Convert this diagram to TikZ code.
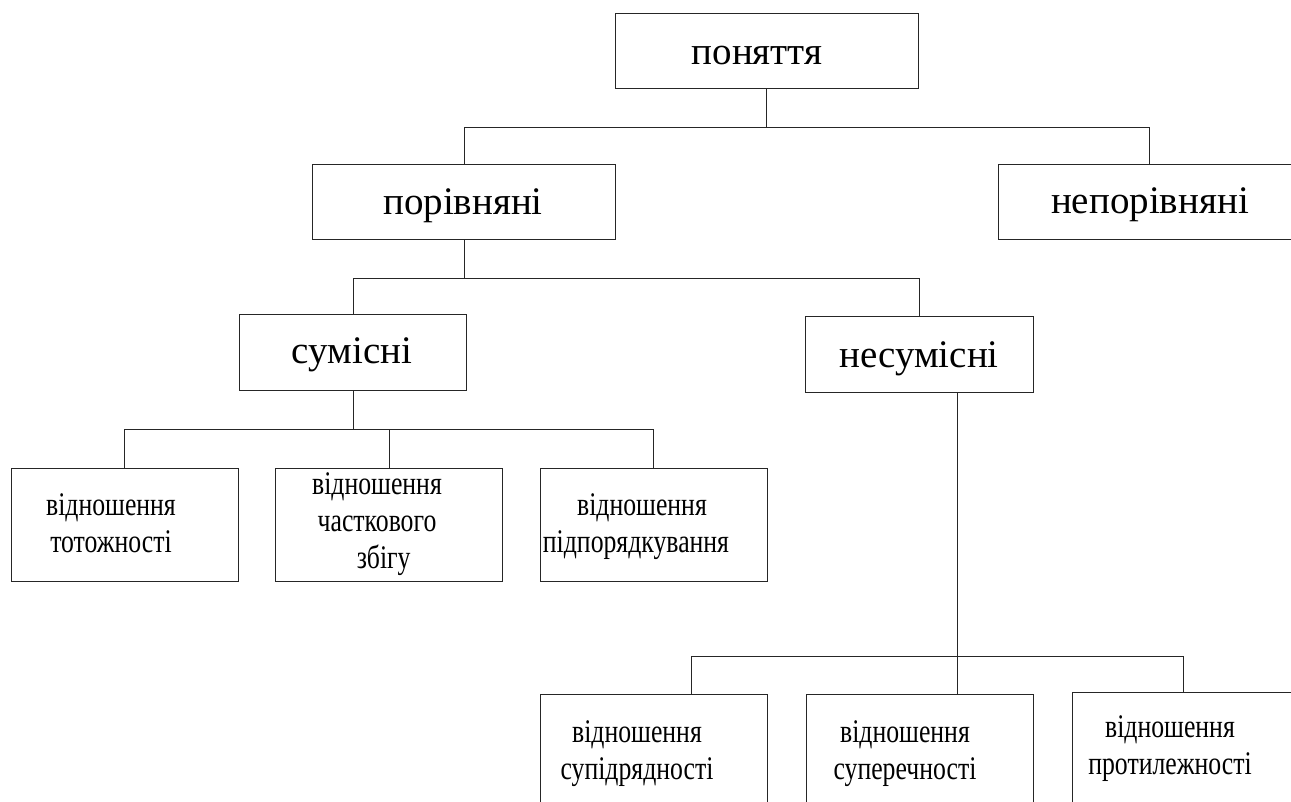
\documentclass[tikz,border=0pt]{standalone}
\usepackage{fontspec}
\setmainfont{Liberation Serif}
\newfontfamily\narrowfont[FakeStretch=0.78]{Liberation Serif}
\usetikzlibrary{positioning}
\tikzset{
    line/.style={draw=black!85, line width=0.75pt}, % thin connectors
    box/.style={line, inner sep=0pt}, % plain frame, text set apart
    topbox/.style={box, minimum width=227.25pt, minimum height=56.25pt}, % upper level
    midbox/.style={box, minimum width=170.5pt, minimum height=57pt}, % middle level
    relbox/.style={box, minimum width=170.25pt, minimum height=84.75pt}, % relation boxes
    bigtext/.style={font=\fontsize{29.25}{34}\selectfont, inner sep=0pt, anchor=base},
    reltext/.style={font=\narrowfont\fontsize{24.75}{27.75}\selectfont, align=center, inner sep=0pt, anchor=base}, % base = last line
}

\begin{document}
\begin{tikzpicture}[x=0.75pt, y=-0.75pt]
    \clip (0,0) rectangle (1291,802);
    \fill[white] (0,0) rectangle (1291,802);

    % levels
    \node[topbox] (root) at (766.5,51.5) {};
    \node[topbox] (cmp) at (464,202.5) {};
    \node[topbox] (ncmp) at (1149.5,202.5) {};
    \node[midbox] (comp) at (353,352) {};
    \node[midbox] (incomp) at (919.5,354) {};

    % relations
    \node[relbox] (r1) at (124.5,524.5) {};
    \node[relbox] (r2) at (389,524.5) {};
    \node[relbox] (r3) at (653.5,524.5) {};
    \node[relbox] (r4) at (653.5,750.5) {};
    \node[relbox] (r5) at (919.5,750.5) {};
    \node[relbox] (r6) at (1185.5,748.5) {};

    % texts
    \node[bigtext] (roott) at (757,65) {поняття};
    \node[bigtext] (cmpt) at (463,215) {порівняні};
    \node[bigtext] (ncmpt) at (1150,214) {непорівняні};
    \node[bigtext] (compt) at (352,363) {сумісні};
    \node[bigtext] (incompt) at (919,367) {несумісні};
    \node[reltext] (r1t) at (111,552) {відношення\\тотожності};
    \node[reltext] (r2t) at (377,568) {відношення\\часткового\\\hspace*{10pt}збігу};
    \node[reltext] (r3t) at (636,552) {\hspace*{9pt}відношення\\підпорядкування};
    \node[reltext] (r4t) at (637,779) {відношення\\супідрядності};
    \node[reltext] (r5t) at (905,779) {відношення\\суперечності};
    \node[reltext] (r6t) at (1170,774) {відношення\\протилежності};

    % connectors
    \draw[line] (root.south) -- ++(0,38) -| (cmp.north);
    \draw[line] (root.south) -- ++(0,38) -| (ncmp.north);
    \draw[line] (cmp.south) -- ++(0,38) -| (comp.north);
    \draw[line] (cmp.south) -- ++(0,38) -| (incomp.north);
    \draw[line] (comp.south) -- ++(0,39) -| (r1.north);
    \draw[line] (comp.south) -- ++(0,39) -| (r2.north);
    \draw[line] (comp.south) -- ++(0,39) -| (r3.north);
    \coordinate (split) at (957,656);
    \draw[line] (incomp.south -| split) -- (split);
    \draw[line] (split) -| ([xshift=28.125pt]r4.north);
    \draw[line] (split) -- (r5.north -| split);
    \draw[line] (split) -| ([xshift=-1.5pt]r6.north);
\end{tikzpicture}
\end{document}
